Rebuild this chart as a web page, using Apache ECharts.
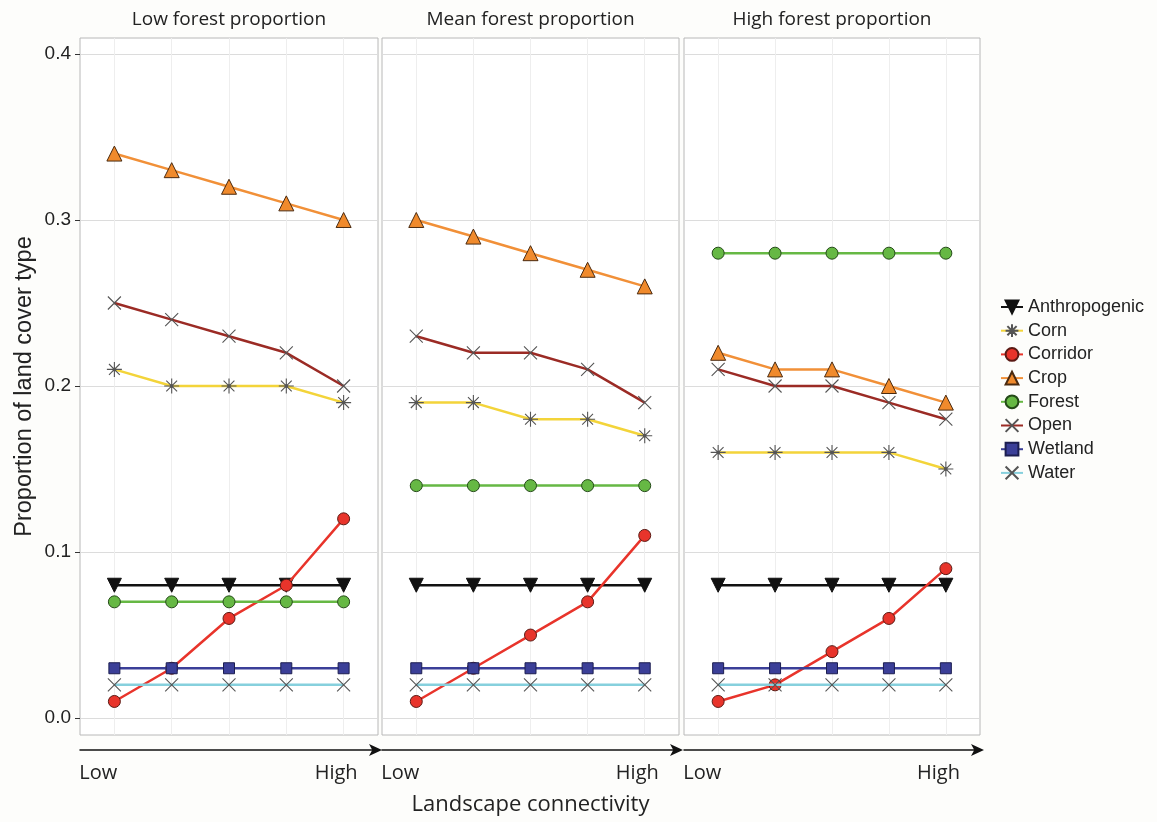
<!DOCTYPE html>
<html><head><meta charset="utf-8">
<script src="https://cdn.jsdelivr.net/npm/echarts@6/dist/echarts.min.js"></script>
<style>html,body{margin:0;padding:0;background:#fdfdfb}#c{width:1157px;height:822px}</style>
</head><body><div id="c"></div>
<script>
// ---- data ----
const panels = ['Low forest proportion', 'Mean forest proportion', 'High forest proportion'];
const types = ['Anthropogenic', 'Corn', 'Corridor', 'Crop', 'Forest', 'Open', 'Wetland', 'Water'];
const xPoints = [0, 1, 2, 3, 4];
const yTicks = [0, 0.1, 0.2, 0.3, 0.4];
const xEndLabels = ['Low', 'High'];

const anthropogenic = [[0.08,0.08,0.08,0.08,0.08],[0.08,0.08,0.08,0.08,0.08],[0.08,0.08,0.08,0.08,0.08]];
const corn          = [[0.21,0.20,0.20,0.20,0.19],[0.19,0.19,0.18,0.18,0.17],[0.16,0.16,0.16,0.16,0.15]];
const corridor      = [[0.01,0.03,0.06,0.08,0.12],[0.01,0.03,0.05,0.07,0.11],[0.01,0.02,0.04,0.06,0.09]];
const crop          = [[0.34,0.33,0.32,0.31,0.30],[0.30,0.29,0.28,0.27,0.26],[0.22,0.21,0.21,0.20,0.19]];
const forest        = [[0.07,0.07,0.07,0.07,0.07],[0.14,0.14,0.14,0.14,0.14],[0.28,0.28,0.28,0.28,0.28]];
const open          = [[0.25,0.24,0.23,0.22,0.20],[0.23,0.22,0.22,0.21,0.19],[0.21,0.20,0.20,0.19,0.18]];
const wetland       = [[0.03,0.03,0.03,0.03,0.03],[0.03,0.03,0.03,0.03,0.03],[0.03,0.03,0.03,0.03,0.03]];
const water         = [[0.02,0.02,0.02,0.02,0.02],[0.02,0.02,0.02,0.02,0.02],[0.02,0.02,0.02,0.02,0.02]];
const values = [anthropogenic, corn, corridor, crop, forest, open, wetland, water];

// ---- styles ----
const ASTER = 'path://M0,-1L0,1M-1,0L1,0M-0.72,-0.72L0.72,0.72M-0.72,0.72L0.72,-0.72M-0.16,-0.16L0.16,-0.16L0.16,0.16L-0.16,0.16Z';
const CROSS = 'path://M-1,-1L1,1M-1,1L1,-1';
const styles = [
  {line:'#111111', symbol:'triangle', rotate:180, size:14, fill:'#111111', border:'#111111', bw:1},
  {line:'#f3d43a', symbol:ASTER, rotate:0, size:15, fill:'#111111', border:'#555555', bw:1.1},
  {line:'#e8342b', symbol:'circle', rotate:0, size:12, fill:'#e8342b', border:'#5a1a14', bw:1},
  {line:'#f19038', symbol:'triangle', rotate:0, size:15, fill:'#f08a2c', border:'#4a2a10', bw:1},
  {line:'#66b844', symbol:'circle', rotate:0, size:12, fill:'#66b844', border:'#244a18', bw:1},
  {line:'#9b2b25', symbol:CROSS, rotate:0, size:13, fill:'none', border:'#555555', bw:1.1},
  {line:'#3b3f98', symbol:'rect', rotate:0, size:11, fill:'#3b3f98', border:'#1c1e50', bw:1},
  {line:'#86d0dd', symbol:CROSS, rotate:0, size:13, fill:'none', border:'#555555', bw:1.1}
];

// ---- layout ----
const gridLeft = [80, 382, 684];
const gridWidth = [298, 297, 296];
const gridTop = 38, gridHeight = 697;
const FONT = '"Open Sans", "Liberation Sans", sans-serif';
const ARIAL = '"Liberation Sans", Arial, sans-serif';

const grid = [], xAxis = [], yAxis = [], series = [], graphic = [];
panels.forEach((p, i) => {
  grid.push({left: gridLeft[i], top: gridTop, width: gridWidth[i], height: gridHeight,
    show: true, backgroundColor: '#ffffff', borderColor: '#b8b8b8', borderWidth: 1, containLabel: false});
  // main x axis
  xAxis.push({type: 'value', gridIndex: i, min: -0.6, max: 4.6,
    axisLine: {show: false, onZero: false}, axisLabel: {show: false},
    axisTick: {show: false, customValues: xPoints},
    splitLine: {show: true, lineStyle: {color: '#eeeeee', width: 1}}});
  // arrow axis
  xAxis.push({type: 'value', gridIndex: i, min: -0.6, max: 4.6, position: 'bottom', offset: 15,
    axisLine: {show: true, onZero: false, symbol: ['none', 'arrow'], symbolSize: [9, 13], symbolOffset: [0, 4],
      lineStyle: {color: '#111', width: 1.5}},
    axisTick: {show: false}, splitLine: {show: false},
    axisLabel: {show: true, customValues: [-0.28, 3.87], margin: 13,
      formatter: v => (v < 0 ? xEndLabels[0] : xEndLabels[1]),
      color: '#222', fontSize: 20, fontFamily: FONT},
    name: i === 1 ? 'Landscape connectivity' : '', nameLocation: 'middle', nameGap: 44,
    nameTextStyle: {color: '#222', fontSize: 22, fontFamily: FONT}});
  yAxis.push({type: 'value', gridIndex: i, min: -0.0102, max: 0.4096,
    axisLine: {show: false, onZero: false},
    axisTick: {show: i === 0, customValues: yTicks, length: 5, lineStyle: {color: '#333'}},
    axisLabel: {show: i === 0, customValues: yTicks, margin: 9,
      formatter: v => v.toFixed(1), color: '#222', fontSize: 19, fontFamily: ARIAL},
    splitLine: {show: true, lineStyle: {color: '#dcdcdc', width: 1}},
    name: i === 0 ? 'Proportion of land cover type' : '', nameLocation: 'middle', nameGap: 43,
    nameTextStyle: {color: '#222', fontSize: 23.5, fontFamily: ARIAL}});
  graphic.push({type: 'text', x: gridLeft[i] + gridWidth[i] / 2, y: 20,
    style: {text: p, textAlign: 'center', textVerticalAlign: 'middle',
      fill: '#222', fontSize: 19, fontFamily: FONT}});
  types.forEach((t, k) => {
    const s = styles[k];
    series.push({name: t, type: 'line', xAxisIndex: i * 2, yAxisIndex: i,
      data: xPoints.map((x, j) => [x, values[k][i][j]]),
      symbol: s.symbol, symbolSize: s.size, symbolRotate: s.rotate, showAllSymbol: true,
      lineStyle: {color: s.line, width: 2.5},
      itemStyle: {color: s.fill, borderColor: s.border, borderWidth: s.bw},
      emphasis: {disabled: true}, animation: false, z: 2 + k});
  });
});

const chart = echarts.init(document.getElementById('c'));
chart.setOption({
  backgroundColor: '#fdfdfb',
  animation: false,
  grid, xAxis, yAxis, series, graphic,
  legend: {data: types, orient: 'vertical', left: 995, top: 293, itemGap: 5.7,
    itemWidth: 22, itemHeight: 16,
    textStyle: {color: '#222', fontSize: 18, lineHeight: 18, fontFamily: ARIAL}}
});
</script></body></html>
